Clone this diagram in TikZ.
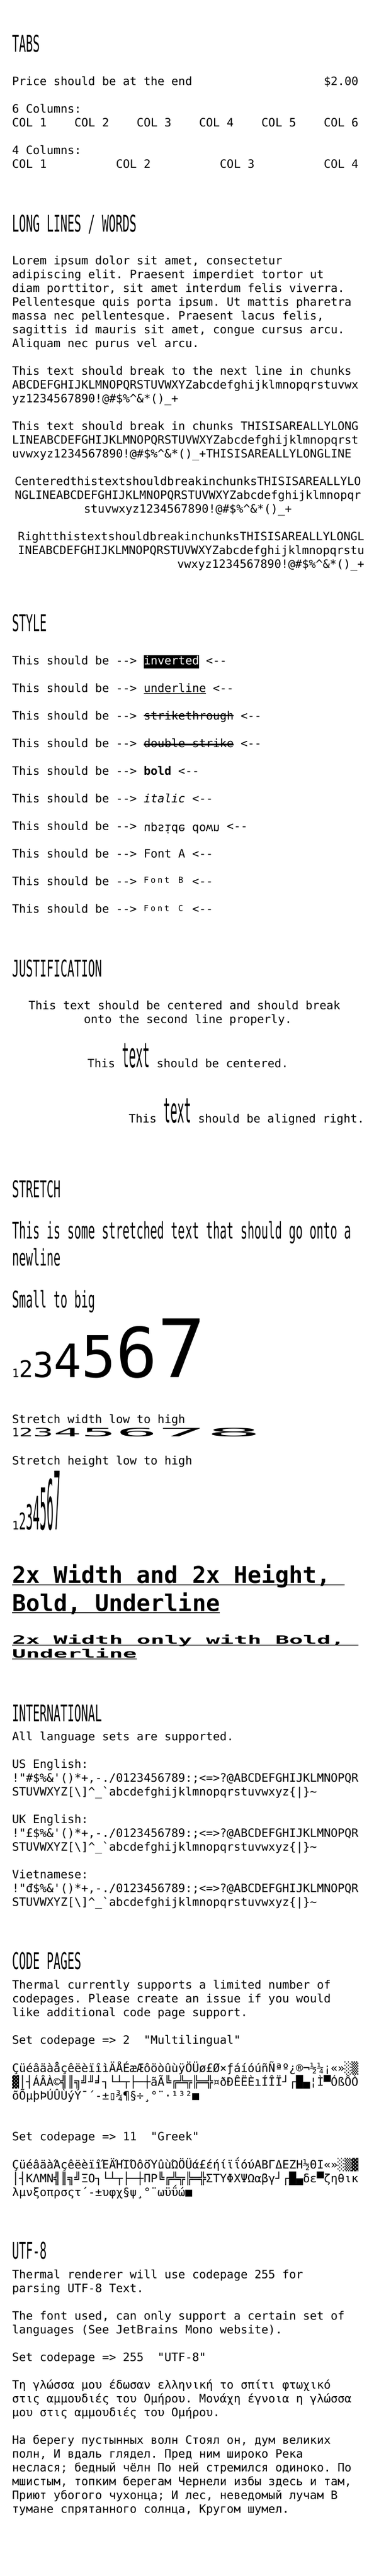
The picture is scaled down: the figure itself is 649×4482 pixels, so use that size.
\documentclass[tikz,border=0pt]{standalone}
\usepackage{fontspec}
\setmonofont{DejaVu Sans Mono}
\usepackage{graphicx}
\newcommand\body{\ttfamily\fontsize{20}{24}\selectfont\frenchspacing}
\newcommand\cellB[1]{\makebox[12.04pt][l]{#1}}
\tikzset{
  txt/.style={anchor=base west,inner sep=0pt,outer sep=0pt,font=\body,text=black},
  rule/.style={line width=1.4pt,black},
}
\newcommand\T[5][]{\node[txt,#1] (#2) at (#3,#4) {#5};}
\newcommand\Hd[3]{\node[txt] (#1) at (21,#2) {\scalebox{1}[2]{#3}};}
\begin{document}
\begin{tikzpicture}[x=1pt,y=-1pt]
\useasboundingbox (0,0) rectangle (649,4482);
\fill[white] (0,0) rectangle (649,4482);
% TABS
\Hd{h1}{90}{TABS}
\T{p1}{21}{148.3}{Price should be at the end}
\T{p2}{562.8}{148.3}{\$2.00}
\T{c6}{21}{196.3}{6 Columns:}
\T{c61}{21}{220.3}{COL 1}
\T{c62}{129.36}{220.3}{COL 2}
\T{c63}{237.72}{220.3}{COL 3}
\T{c64}{346.08}{220.3}{COL 4}
\T{c65}{454.44}{220.3}{COL 5}
\T{c66}{562.8}{220.3}{COL 6}
\T{c4}{21}{268.3}{4 Columns:}
\T{c41}{21}{292.3}{COL 1}
\T{c42}{201.6}{292.3}{COL 2}
\T{c43}{382.2}{292.3}{COL 3}
\T{c44}{562.8}{292.3}{COL 4}
% LONG LINES
\Hd{h2}{403.3}{LONG LINES / WORDS}
\T{l1}{21}{460.7}{Lorem ipsum dolor sit amet, consectetur}
\T{l2}{21}{484.7}{adipiscing elit. Praesent imperdiet tortor ut}
\T{l3}{21}{508.7}{diam porttitor, sit amet interdum felis viverra.}
\T{l4}{21}{532.7}{Pellentesque quis porta ipsum. Ut mattis pharetra}
\T{l5}{21}{556.7}{massa nec pellentesque. Praesent lacus felis,}
\T{l6}{21}{580.7}{sagittis id mauris sit amet, congue cursus arcu.}
\T{l7}{21}{604.7}{Aliquam nec purus vel arcu.}
\T{b1}{21}{652.7}{This text should break to the next line in chunks}
\T{b2}{21}{676.7}{ABCDEFGHIJKLMNOPQRSTUVWXYZabcdefghijklmnopqrstuvwx}
\T{b3}{21}{700.7}{yz1234567890!@\#\$\%\textasciicircum\&*()\_+}
\T{b4}{21}{748.7}{This text should break in chunks THISISAREALLYLONG}
\T{b5}{21}{772.7}{LINEABCDEFGHIJKLMNOPQRSTUVWXYZabcdefghijklmnopqrst}
\T{b6}{21}{796.7}{uvwxyz1234567890!@\#\$\%\textasciicircum\&*()\_+THISISAREALLYLONGLINE}
\T{ce1}{25.5}{844.7}{CenteredthistextshouldbreakinchunksTHISISAREALLYLO}
\T{ce2}{25.5}{868.7}{NGLINEABCDEFGHIJKLMNOPQRSTUVWXYZabcdefghijklmnopqr}
\T{ce3}{145.9}{892.7}{stuvwxyz1234567890!@\#\$\%\textasciicircum\&*()\_+}
\T[anchor=base east]{ri1}{633.3}{940.7}{RightthistextshouldbreakinchunksTHISISAREALLYLONGL}
\T[anchor=base east]{ri2}{633.3}{964.7}{INEABCDEFGHIJKLMNOPQRSTUVWXYZabcdefghijklmnopqrstu}
\T[anchor=base east]{ri3}{633.3}{988.7}{vwxyz1234567890!@\#\$\%\textasciicircum\&*()\_+}
% STYLE
\Hd{h3}{1098.3}{STYLE}
\fill[black] (249.76,1140) rectangle (346.08,1163.3);
\T{s1a}{21}{1156.7}{This should be -->}
\T[text=white]{s1b}{249.76}{1156.7}{inverted}
\T{s1c}{358.12}{1156.7}{<--}
\T{s2}{21}{1204.7}{This should be --> underline <--}
\draw[line width=1.3pt] (249.76,1206.6) -- (358.12,1206.6);
\T{s3}{21}{1252.7}{This should be --> strikethrough <--}
\draw[line width=1.3pt] (249.76,1245) -- (406.28,1245);
\T{s4}{21}{1300.7}{This should be --> double strike <--}
\draw[line width=3pt] (249.76,1295) -- (406.28,1295);
\T{s5}{21}{1348.7}{This should be --> {\bfseries bold} <--}
\T{s6}{21}{1396.7}{This should be --> {\itshape italic} <--}
\T{s7a}{21}{1444.7}{This should be -->}
\T{s7b}{249.76}{1435.7}{\scalebox{1}[-1]{upside down}}
\T{s7c}{394.24}{1444.7}{<--}
\T{s8}{21}{1492.7}{This should be --> Font A <--}
\T{s9a}{21}{1540.7}{This should be -->}
\T{s9b}{249.76}{1536.7}{\fontsize{14.5}{17}\selectfont\cellB{F}\cellB{o}\cellB{n}\cellB{t}\cellB{\ }\cellB{B}}
\T{s9c}{334.04}{1540.7}{<--}
\T{s10a}{21}{1588.7}{This should be -->}
\T{s10b}{249.76}{1585}{\fontsize{14}{17}\selectfont\cellB{F}\cellB{o}\cellB{n}\cellB{t}\cellB{\ }\cellB{C}}
\T{s10c}{334.04}{1588.7}{<--}
% JUSTIFICATION
\Hd{h4}{1699.3}{JUSTIFICATION}
\T{j1}{49.6}{1756.7}{This text should be centered and should break}
\T{j2}{145.9}{1780.7}{onto the second line properly.}
\T{j3}{152}{1857.5}{This \scalebox{1}[3]{text} should be centered.}
\T[anchor=base east]{j4}{633.3}{1953.5}{This \scalebox{1}[3]{text} should be aligned right.}
% STRETCH
\Hd{h5}{2083.3}{STRETCH}
\T{st1}{21}{2155}{\scalebox{1}[2]{This is some stretched text that should go onto a}}
\T{st2}{21}{2202.7}{\scalebox{1}[2]{newline}}
\T{st3}{21}{2275}{\scalebox{1}[2]{Small to big}}
\T{st4}{21}{2396.7}{1\scalebox{2}{2}\scalebox{3}{3}\scalebox{4}{4}\scalebox{5}{5}\scalebox{6}{6}\scalebox{7}{7}}
\T{st5}{21}{2476}{Stretch width low to high}
\T{st6}{21}{2499.5}{1\scalebox{2}[1]{2}\scalebox{3}[1]{3}\scalebox{4}[1]{4}\scalebox{5}[1]{5}\scalebox{6}[1]{6}\scalebox{7}[1]{7}\scalebox{8}[1]{8}}
\T{st7}{21}{2548.3}{Stretch height low to high}
\T{st8}{21}{2661.7}{1\scalebox{1}[2]{2}\scalebox{1}[3]{3}\scalebox{1}[4]{4}\scalebox{1}[5]{5}\scalebox{1}[6]{6}\scalebox{1}[7]{7}}
\T{w1}{21}{2754}{\scalebox{2}{\bfseries 2x Width and 2x Height,}}
\draw[line width=1.6pt] (21,2757.6) -- (599,2757.6);
\T{w2}{21}{2803}{\scalebox{2}{\bfseries Bold, Underline}}
\draw[line width=1.6pt] (21,2806.2) -- (382.2,2806.2);
\T{w3}{21}{2860}{\scalebox{2}[1]{\bfseries 2x Width only with Bold,}}
\draw[line width=1.3pt] (21,2862.6) -- (623,2862.6);
\T{w4}{21}{2884}{\scalebox{2}[1]{\bfseries Underline}}
\draw[line width=1.3pt] (21,2886.4) -- (237.7,2886.4);
% INTERNATIONAL
\Hd{h6}{2995}{INTERNATIONAL}
\T{i1}{21}{3028.3}{All language sets are supported.}
\T{i2}{21}{3076.3}{US English:}
\T{i3}{21}{3100.3}{!"\#\$\%\&'()*+,-./0123456789:;<=>?@ABCDEFGHIJKLMNOPQR}
\T{i4}{21}{3124.3}{STUVWXYZ[\textbackslash]\textasciicircum\_`abcdefghijklmnopqrstuvwxyz\{|\}\textasciitilde}
\T{i5}{21}{3172.3}{UK English:}
\T{i6}{21}{3196.3}{!"£\$\%\&'()*+,-./0123456789:;<=>?@ABCDEFGHIJKLMNOPQR}
\T{i7}{21}{3220.3}{STUVWXYZ[\textbackslash]\textasciicircum\_`abcdefghijklmnopqrstuvwxyz\{|\}\textasciitilde}
\T{i8}{21}{3268.3}{Vietnamese:}
\T{i9}{21}{3292.3}{!"đ\$\%\&'()*+,-./0123456789:;<=>?@ABCDEFGHIJKLMNOPQR}
\T{i10}{21}{3316.3}{STUVWXYZ[\textbackslash]\textasciicircum\_`abcdefghijklmnopqrstuvwxyz\{|\}\textasciitilde}
% CODE PAGES
\Hd{h7}{3426}{CODE PAGES}
\T{k1}{21}{3460}{Thermal currently supports a limited number of}
\T{k2}{21}{3484}{codepages. Please create an issue if you would}
\T{k3}{21}{3508}{like additional code page support.}
\T{k4}{21}{3556}{Set codepage => 2~~"Multilingual"}
\T{k5}{21}{3605.5}{ÇüéâäàåçêëèïîìÄÅÉæÆôöòûùÿÖÜø£Ø×ƒáíóúñÑªº¿®¬½¼¡«»░▒}
\T{k6}{21}{3629.5}{▓│┤ÁÂÀ©╣║╗╝╜╛┐└┴┬├─┼ãÃ╚╔╩╦╠═╬¤ðÐÊËÈıÍÎÏ┘┌█▄¦Ì▀ÓßÔÒ}
\T{k7}{21}{3653.5}{õÕµþÞÚÛÙýÝ¯´-±▯¾¶§÷¸°¨·¹³²■}
\T{k8}{21}{3724.3}{Set codepage => 11~~"Greek"}
\T{k9}{21}{3773.3}{ÇüéâäàΆçêëèïîΈÄΉΊΌôöΎûùΏÖÜά£έήίϊΐόύΑΒΓΔΕΖΗ½ΘΙ«»░▒▓}
\T{k10}{21}{3797.5}{│┤ΚΛΜΝ╣║╗╝ΞΟ┐└┴┬├─┼ΠΡ╚╔╩╦╠═╬ΣΤΥΦΧΨΩαβγ┘┌█▄δε▀ζηθικ}
\T{k11}{21}{3821.7}{λμνξοπρσςτ΄-±υφχ§ψ¸°¨ωϋΰώ■}
% UTF-8
\Hd{h8}{3930}{UTF-8}
\T{u1}{21}{3964}{Thermal renderer will use codepage 255 for}
\T{u2}{21}{3988}{parsing UTF-8 Text.}
\T{u3}{21}{4036.5}{The font used, can only support a certain set of}
\T{u4}{21}{4060.5}{languages (See JetBrains Mono website).}
\T{u5}{21}{4108.3}{Set codepage => 255~~"UTF-8"}
\T{g1}{21}{4156.7}{Τη γλώσσα μου έδωσαν ελληνική το σπίτι φτωχικό}
\T{g2}{21}{4180.7}{στις αμμουδιές του Ομήρου. Μονάχη έγνοια η γλώσσα}
\T{g3}{21}{4204.7}{μου στις αμμουδιές του Ομήρου.}
\T{r1}{21}{4252.7}{На берегу пустынных волн Стоял он, дум великих}
\T{r2}{21}{4276.7}{полн, И вдаль глядел. Пред ним широко Река}
\T{r3}{21}{4300.7}{неслася; бедный чёлн По ней стремился одиноко. По}
\T{r4}{21}{4324.7}{мшистым, топким берегам Чернели избы здесь и там,}
\T{r5}{21}{4348.7}{Приют убогого чухонца; И лес, неведомый лучам В}
\T{r6}{21}{4372.7}{тумане спрятанного солнца, Кругом шумел.}
\end{tikzpicture}
\end{document}
